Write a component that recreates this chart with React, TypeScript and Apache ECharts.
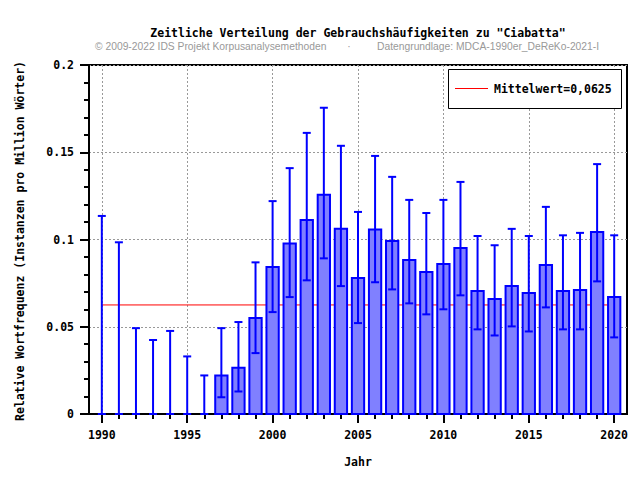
import React, { useEffect, useRef } from "react";
import * as echarts from "echarts";

const years = [1990, 1991, 1992, 1993, 1994, 1995, 1996, 1997, 1998, 1999, 2000, 2001, 2002, 2003, 2004, 2005, 2006, 2007, 2008, 2009, 2010, 2011, 2012, 2013, 2014, 2015, 2016, 2017, 2018, 2019, 2020];
const freq = [0, 0, 0, 0, 0, 0, 0, 0.0221, 0.0265, 0.0550, 0.0842, 0.0977, 0.1112, 0.1256, 0.1061, 0.0779, 0.1057, 0.0992, 0.0883, 0.0814, 0.0860, 0.0952, 0.0705, 0.0659, 0.0733, 0.0693, 0.0854, 0.0705, 0.0710, 0.1043, 0.0670];
const errLow = [0, 0, 0, 0, 0, 0, 0, 0.0096, 0.0129, 0.0349, 0.0584, 0.0670, 0.0766, 0.0892, 0.0733, 0.0521, 0.0755, 0.0714, 0.0634, 0.0571, 0.0600, 0.0680, 0.0485, 0.0450, 0.0502, 0.0473, 0.0611, 0.0485, 0.0485, 0.0760, 0.0439];
const errHigh = [0.1135, 0.0984, 0.0492, 0.0424, 0.0476, 0.0330, 0.0221, 0.0492, 0.0527, 0.0869, 0.1220, 0.1409, 0.1611, 0.1755, 0.1537, 0.1158, 0.1479, 0.1359, 0.1227, 0.1152, 0.1227, 0.1330, 0.1020, 0.0967, 0.1061, 0.1020, 0.1187, 0.1024, 0.1038, 0.1432, 0.1024];
const meanValue = 0.0625;
const meanLabel = "Mittelwert=0,0625";
const xTickYears = [1990, 1995, 2000, 2005, 2010, 2015, 2020];

const MONO = "DejaVu Sans Mono";
const BLUE = "#0000ff";

export default function App() {
  const ref = useRef<HTMLDivElement>(null);
  useEffect(() => {
    if (!ref.current) return;
    const chart = echarts.init(ref.current, undefined, { renderer: "svg" });
    const barData = years.map((y, i) => [y, freq[i]]).filter((d) => d[1] > 0);
    const errData = years.map((y, i) => [y, errLow[i], errHigh[i]]);
    const labelStyle = { fontFamily: MONO, fontWeight: "bold" as const, fontSize: 11.5, color: "#000" };
    chart.setOption({
      animation: false,
      backgroundColor: "#fff",
      grid: { left: 89, right: 13, top: 65, bottom: 66, show: true, borderColor: "#000", borderWidth: 2, backgroundColor: "transparent" },
      xAxis: {
        type: "value",
        min: 1989.25,
        max: 2020.75,
        axisLine: { show: true, lineStyle: { color: "#000", width: 2 } },
        axisTick: { show: true, length: 9, inside: false, customValues: xTickYears, lineStyle: { color: "#000", width: 2 } },
        minorTick: { show: true, splitNumber: 5, length: 5, lineStyle: { color: "#000", width: 2 } },
        axisLabel: { ...labelStyle, margin: 15, customValues: xTickYears, formatter: (v: number) => String(v) },
        splitLine: { show: true, lineStyle: { color: "#999", type: [2, 2], width: 1 } },
        minorSplitLine: { show: false },
      },
      yAxis: {
        type: "value",
        min: 0,
        max: 0.2,
        interval: 0.05,
        axisLine: { show: true, lineStyle: { color: "#000", width: 2 } },
        axisTick: { show: true, length: 9, inside: false, lineStyle: { color: "#000", width: 2 } },
        minorTick: { show: true, splitNumber: 5, length: 5, lineStyle: { color: "#000", width: 2 } },
        axisLabel: { ...labelStyle, margin: 15, formatter: (v: number) => String(Math.round(v * 100) / 100) },
        splitLine: { show: true, lineStyle: { color: "#999", type: [2, 2], width: 1 } },
      },
      graphic: [
        { type: "text", x: 358, y: 33, style: { text: 'Zeitliche Verteilung der Gebrauchshäufigkeiten zu "Ciabatta"', fill: "#000", font: `bold 11.5px "${MONO}"`, textAlign: "center", textVerticalAlign: "middle" } },
        { type: "text", x: 95, y: 46, style: { text: "© 2009-2022 IDS Projekt Korpusanalysemethoden", fill: "#999", font: '10.3px "Liberation Sans"', textAlign: "left", textVerticalAlign: "middle" } },
        { type: "text", x: 349, y: 46, style: { text: "·", fill: "#999", font: '10.3px "Liberation Sans"', textAlign: "center", textVerticalAlign: "middle" } },
        { type: "text", x: 377, y: 46, style: { text: "Datengrundlage: MDCA-1990er_DeReKo-2021-I", fill: "#999", font: '10.3px "Liberation Sans"', textAlign: "left", textVerticalAlign: "middle" } },
        { type: "text", x: 358, y: 462, style: { text: "Jahr", fill: "#000", font: `bold 11.5px "${MONO}"`, textAlign: "center", textVerticalAlign: "middle" } },
        { type: "text", x: 20, y: 241, rotation: Math.PI / 2, style: { text: "Relative Wortfrequenz (Instanzen pro Million Wörter)", fill: "#000", font: `bold 11.5px "${MONO}"`, textAlign: "center", textVerticalAlign: "middle" } },
        { type: "rect", z: 10, shape: { x: 448.5, y: 69.5, width: 173, height: 39 }, style: { fill: "#fff", stroke: "#000", lineWidth: 1 } },
        { type: "line", z: 11, shape: { x1: 455, y1: 88.5, x2: 488, y2: 88.5 }, style: { stroke: "#ff0000", lineWidth: 1 } },
        { type: "text", z: 11, x: 494, y: 89, style: { text: meanLabel, fill: "#000", font: `bold 11.5px "${MONO}"`, textAlign: "left", textVerticalAlign: "middle" } },
      ],
      series: [
        {
          name: meanLabel,
          type: "line",
          data: [[years[0], meanValue], [years[years.length - 1], meanValue]],
          symbol: "none",
          z: 1,
          lineStyle: { color: "#ff0000", width: 1 },
          itemStyle: { color: "#ff0000" },
        },
        {
          name: "bars",
          type: "custom",
          z: 2,
          data: barData,
          renderItem: (params: any, api: any) => {
            const x = api.value(0);
            const v = api.value(1);
            const p1 = api.coord([x - 0.36, v]);
            const p2 = api.coord([x + 0.36, 0]);
            return {
              type: "rect",
              shape: { x: p1[0], y: p1[1], width: p2[0] - p1[0], height: p2[1] - p1[1] },
              style: { fill: "#8080ff", stroke: BLUE, lineWidth: 2 },
            };
          },
        },
        {
          name: "err",
          type: "custom",
          z: 3,
          data: errData,
          renderItem: (params: any, api: any) => {
            const x = api.value(0);
            const lo = api.coord([x, api.value(1)]);
            const hi = api.coord([x, api.value(2)]);
            const hw = 4;
            const st = { stroke: BLUE, lineWidth: 2 };
            return {
              type: "group",
              children: [
                { type: "line", shape: { x1: lo[0], y1: lo[1], x2: hi[0], y2: hi[1] }, style: st },
                { type: "line", shape: { x1: hi[0] - hw, y1: hi[1], x2: hi[0] + hw, y2: hi[1] }, style: st },
                { type: "line", shape: { x1: lo[0] - hw, y1: lo[1], x2: lo[0] + hw, y2: lo[1] }, style: st },
              ],
            };
          },
        },
      ],
    });
    return () => chart.dispose();
  }, []);
  return <div ref={ref} style={{ width: 640, height: 480, position: "absolute", left: 0, top: 0 }} />;
}
